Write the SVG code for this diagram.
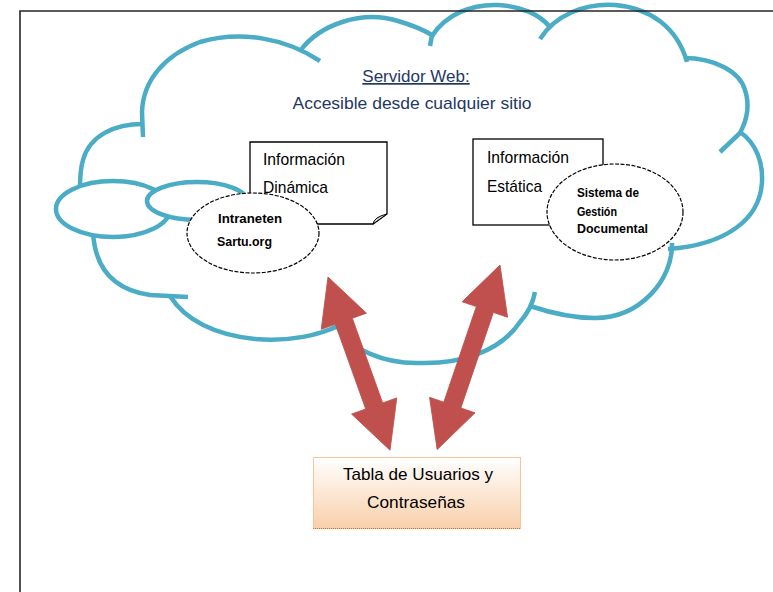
<svg xmlns="http://www.w3.org/2000/svg" width="773" height="592" viewBox="0 0 773 592">
<style>
.cl{fill:none;stroke:#4bacc6;stroke-width:4.5;stroke-linecap:butt;stroke-linejoin:round}
.bub{fill:#ffffff;stroke:#4bacc6;stroke-width:4.5}
.box{fill:#ffffff;stroke:#000000;stroke-width:1.3}
.ell{fill:#ffffff;stroke:#000000;stroke-width:1.2;stroke-dasharray:4 1.5}
.t{font-family:"Liberation Sans",Arial,sans-serif;fill:#000000}
.arr{fill:#c0504d;stroke:#c0504d;stroke-width:0.8;stroke-linejoin:miter}
</style>
<defs>
<linearGradient id="peach" x1="0" y1="0" x2="0" y2="1">
<stop offset="0" stop-color="#ffffff"/>
<stop offset="1" stop-color="#f9cfaa"/>
</linearGradient>
</defs>
<rect width="773" height="592" fill="#ffffff"/>

<g id="servidor-web">
<path class="cl" d="M143,137 L142,112 C143,80 165,55 200,42 C240,30 285,38 320,61"/>
<path class="cl" d="M300,51 C320,24 362,10 398,21 C415,26 427,32 432,35 L430,46"/>
<path class="cl" d="M432,36 C446,14 472,4 498,5 C522,6 540,15 550,27"/>
<path class="cl" d="M540,39 C555,15 585,3 615,5 C650,8 677,27 687,62"/>
<path class="cl" d="M684,58 C715,58 740,72 745,90 C750,105 748,118 740,133 L720,152"/>
<path class="cl" d="M740,132 C756,143 763,162 762,182 C760,220 725,245 668,249"/>
<path class="cl" d="M672,243 C673,280 640,318 595,318 C570,318 548,312 530,306"/>
<path class="cl" d="M337,326 C350,350 385,364 420,363 C460,364 500,352 520,322 C528,313 533,303 535,292"/>
<path class="cl" d="M170,296 C185,320 215,335 255,339 C290,342 320,335 340,325"/>
<path class="cl" d="M93,232 C95,270 115,290 150,295 L188,297"/>
<path class="cl" d="M143,124 C115,124 90,135 83,160 C80,170 80,178 80,188"/>
<ellipse class="bub" cx="113" cy="209" rx="57" ry="28"/>
<ellipse class="bub" cx="197" cy="201" rx="50" ry="19"/>
<text class="t" x="416" y="82" font-size="17" fill="#1f3864" style="fill:#1f3864" text-anchor="middle" text-decoration="underline">Servidor Web:</text>
<text class="t" x="412" y="109" font-size="17" style="fill:#1f3864" text-anchor="middle" textLength="239" lengthAdjust="spacingAndGlyphs">Accesible desde cualquier sitio</text>
</g>

<g id="info-dinamica">
<path class="box" d="M250,142 H387 V214 L373,224 H250 Z"/>
<path d="M373,224 Q374,217 387,214 Z" fill="#d9d9d9" stroke="#000000" stroke-width="1"/>
<text class="t" x="263" y="165" font-size="17" textLength="82" lengthAdjust="spacingAndGlyphs">Información</text>
<text class="t" x="263" y="193" font-size="17" textLength="65" lengthAdjust="spacingAndGlyphs">Dinámica</text>
</g>

<g id="intranet">
<ellipse class="ell" cx="253" cy="233" rx="66" ry="40"/>
<text class="t" x="218" y="223" font-size="13" font-weight="bold" textLength="64" lengthAdjust="spacingAndGlyphs">Intraneten</text>
<text class="t" x="217" y="246" font-size="13" font-weight="bold" textLength="55" lengthAdjust="spacingAndGlyphs">Sartu.org</text>
</g>

<g id="info-estatica">
<rect class="box" x="473" y="139" width="130" height="86"/>
<text class="t" x="487" y="163" font-size="17" textLength="82" lengthAdjust="spacingAndGlyphs">Información</text>
<text class="t" x="487" y="192" font-size="17" textLength="55" lengthAdjust="spacingAndGlyphs">Estática</text>
</g>

<g id="sistema-gestion">
<ellipse class="ell" cx="615" cy="212" rx="68" ry="48"/>
<text class="t" x="577" y="197" font-size="13" font-weight="bold" textLength="62" lengthAdjust="spacingAndGlyphs">Sistema de</text>
<text class="t" x="577" y="216" font-size="13" font-weight="bold" textLength="40" lengthAdjust="spacingAndGlyphs">Gestión</text>
<text class="t" x="577" y="233" font-size="13" font-weight="bold" textLength="71" lengthAdjust="spacingAndGlyphs">Documental</text>
</g>

<g id="tabla-usuarios">
<rect x="313.5" y="457.5" width="207" height="71" fill="url(#peach)" stroke="#f9c496" stroke-width="1"/>
<line x1="313" y1="528.5" x2="521" y2="528.5" stroke="#c8742f" stroke-width="1.2" stroke-dasharray="1 1"/>
<text class="t" x="418" y="480" font-size="17" text-anchor="middle" textLength="150" lengthAdjust="spacingAndGlyphs">Tabla de Usuarios y</text>
<text class="t" x="416" y="508" font-size="17" text-anchor="middle" textLength="98" lengthAdjust="spacingAndGlyphs">Contraseñas</text>
</g>

<g id="connectors">
<polygon class="arr" transform="translate(328,277) rotate(70.3)" points="0,0 47,-24 47,-9 137,-9 137,-24 184,0 137,24 137,9 47,9 47,24"/>
<polygon class="arr" transform="translate(500,265) rotate(108.8)" points="0,0 47,-24 47,-9 148,-9 148,-24 195,0 148,24 148,9 47,9 47,24"/>
</g>

<g id="frame">
<path d="M20,592 V11 H773" fill="none" stroke="#262626" stroke-width="1.6"/>
</g>
</svg>
